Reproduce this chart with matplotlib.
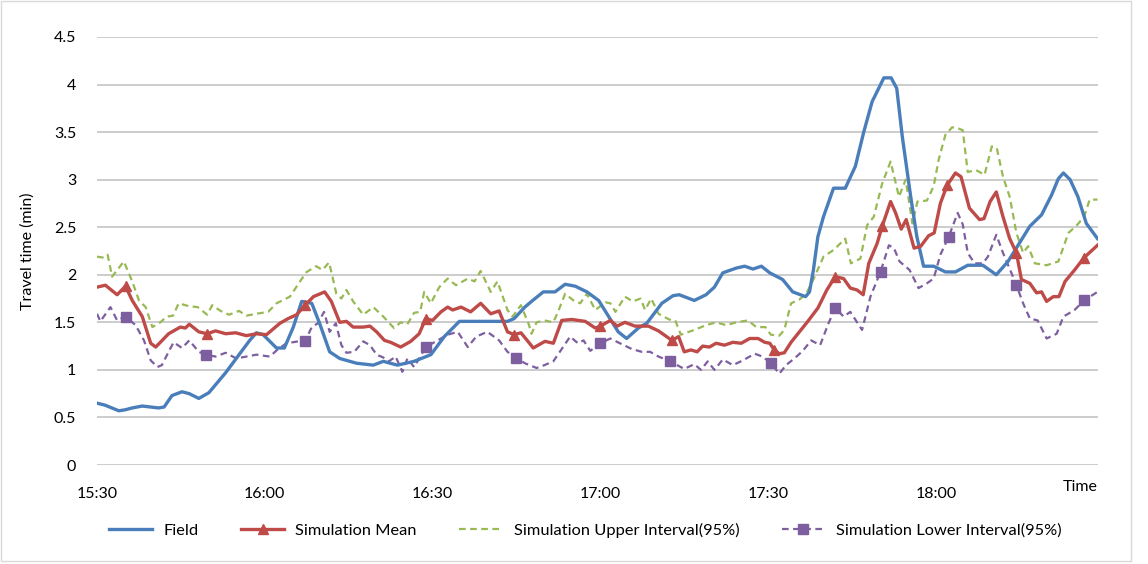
import matplotlib.pyplot as plt
from matplotlib.patches import Rectangle

# ============================
# DATOS (minutos desde las 15:30)
# ============================
t_field = [0, 1.4, 3.9, 5, 6.3, 8.1, 11, 12, 13.4, 15.2, 16.5, 18.2, 20, 23, 25.4, 27.3, 28.5, 29.7,
           32.1, 33.5, 35.1, 36.6, 38.4, 39.8, 41.6, 43.4, 46.4, 49.4, 51.2, 53.7, 56.7, 59.7, 62.1,
           64.8, 68.7, 73.4, 74.6, 76.5, 77.7, 79.8, 81.9, 83.7, 85.5, 87.6, 89.7, 91.5, 93.2, 94.7,
           96.8, 98.3, 101, 103, 104.1, 106.8, 108.9, 110.4, 111.9, 114.3, 115.8, 117.3, 118.8, 120.3,
           122.6, 124.4, 126.7, 127.4, 128.1, 128.9, 129.9, 131.7, 133.8, 135.6, 137.1, 138.6, 140.7,
           142, 143, 144, 145.5, 146.6, 147.8, 149.6, 151.7, 153.5, 155.7, 158.4, 160.8, 162.9, 164.7,
           166.8, 168.9, 170.7, 171.9, 172.8, 174, 175.4, 176.9, 178.9]
field = [0.65, 0.63, 0.57, 0.58, 0.60, 0.62, 0.60, 0.61, 0.73, 0.77, 0.75, 0.70, 0.76, 0.97, 1.16, 1.31, 1.39, 1.37,
         1.23, 1.23, 1.45, 1.72, 1.70, 1.49, 1.19, 1.12, 1.07, 1.05, 1.09, 1.05, 1.09, 1.16, 1.35,
         1.51, 1.51, 1.51, 1.54, 1.66, 1.72, 1.82, 1.82, 1.90, 1.88, 1.82, 1.73, 1.56, 1.40, 1.33,
         1.44, 1.49, 1.70, 1.78, 1.79, 1.73, 1.79, 1.87, 2.02, 2.07, 2.09, 2.06, 2.09, 2.02,
         1.95, 1.82, 1.77, 1.82, 2.05, 2.40, 2.61, 2.91, 2.91, 3.14, 3.50, 3.82, 4.07,
         4.07, 3.96, 3.45, 2.82, 2.40, 2.09, 2.09, 2.03, 2.03, 2.10, 2.10, 2.00, 2.14, 2.31,
         2.51, 2.63, 2.84, 3.01, 3.07, 3.00, 2.82, 2.54, 2.38]

t_mean = [0, 1.5, 3.6, 5.1, 6.3, 8.1, 9.6, 10.5, 12.8, 14.9, 15.8, 16.5, 18.2, 19.7, 21.2, 23, 24.8,
          26.7, 28.5, 30.3, 32.7, 34.2, 35.7, 37.2, 38.7, 40.7, 41.9, 43.4, 44.6, 45.8, 47.6, 48.8,
          50, 51.4, 52.5, 54.3, 56.1, 57.6, 58.8, 60, 61.5, 62.7, 63.6, 65.1, 66.8, 68.6, 70.4, 71.9,
          73.4, 74.6, 75.8, 77.2, 78, 80.1, 81.6, 83.1, 84.9, 87.3, 89.1, 90, 91.8, 93, 94.4, 96.2,
          98.6, 100.4, 102.8, 104, 105, 106.2, 107.3, 108.3, 109.5, 110.7, 112.2, 113.7, 115.2,
          116.7, 118.2, 119.4, 120.3, 121.1, 122, 122.9, 124.1, 125.6, 127.1, 128.9, 130.5, 132,
          133.5, 134.7, 135.9, 137, 138, 139.5, 140.4, 141.9, 142.8, 143.8, 144.7, 146.1, 147.3,
          148.7, 149.7, 150.8, 152, 153.5, 154.5, 156, 157.8, 158.6, 159.7, 160.8, 162, 163.2,
          164.4, 165.3, 166.8, 168, 168.9, 169.8, 171, 172, 173.1, 174.8, 176.5, 178.9]
mean = [1.87, 1.89, 1.79, 1.88, 1.73, 1.56, 1.28, 1.24, 1.38, 1.45, 1.44, 1.48, 1.40, 1.38, 1.41, 1.38, 1.39,
        1.36, 1.38, 1.37, 1.49, 1.54, 1.58, 1.68, 1.77, 1.82, 1.72, 1.50, 1.51, 1.45, 1.45, 1.46,
        1.40, 1.31, 1.29, 1.24, 1.30, 1.38, 1.54, 1.52, 1.61, 1.66, 1.63, 1.66, 1.61, 1.70, 1.59, 1.62,
        1.40, 1.37, 1.39, 1.29, 1.23, 1.30, 1.28, 1.52, 1.53, 1.51, 1.44, 1.46, 1.52, 1.46, 1.50, 1.46,
        1.46, 1.41, 1.31, 1.35, 1.19, 1.21, 1.19, 1.25, 1.24, 1.28, 1.26, 1.29, 1.28,
        1.33, 1.33, 1.29, 1.28, 1.21, 1.17, 1.18, 1.29, 1.40, 1.51, 1.65, 1.84, 1.98,
        1.96, 1.86, 1.84, 1.79, 2.12, 2.33, 2.51, 2.77, 2.65, 2.48, 2.58, 2.28, 2.30,
        2.41, 2.44, 2.75, 2.94, 3.07, 3.03, 2.70, 2.58, 2.59, 2.77, 2.87, 2.61, 2.38,
        2.23, 1.95, 1.91, 1.81, 1.82, 1.72, 1.77, 1.77, 1.93, 2.05, 2.18, 2.31]

t_upper = [0, 1.2, 1.9, 2.7, 4.8, 6.3, 7.5, 8.7, 9.9, 11.1, 12.5, 13.6, 14.6, 16.4, 18, 19.7, 20.6, 22.1,
           23.6, 25.4, 26.7, 28.5, 30.6, 32.1, 34.5, 36.3, 37.5, 39.2, 40.3, 41.5, 42.8, 43.7, 44.6,
           45.8, 47.6, 49.4, 51.2, 53.1, 54.3, 55.5, 56.7, 57.8, 58.5, 59.7, 61.2, 62.7, 64.2, 66.3,
           67.5, 68.6, 70.4, 71.6, 73.4, 74.3, 75.8, 77.2, 77.7, 78.6, 80, 81.6, 82.5, 83.7, 85.2, 86.4,
           87.6, 89.1, 90.9, 91.8, 92.7, 94.4, 95.8, 97.2, 98, 99.1, 100.4, 102.3, 103.4, 104.4,
           106.8, 108.9, 110.7, 112.5, 114.3, 116.4, 117.9, 119.5, 120.5, 122, 122.9, 124.1, 125.6,
           126.8, 128.1, 129.9, 131.7, 133.8, 134.8, 136.5, 137.7, 138.9, 140.4, 141.9, 143.4, 144.6,
           145.8, 146.7, 148.4, 149.6, 150.5, 151.7, 152.9, 153.9, 154.8, 155.7, 157.2, 158.7, 160,
           160.9, 162, 163.2, 164.4, 165.6, 166.5, 167.7, 169.8, 171.9, 173.7, 175.2, 176.5, 177.5,
           178.9]
upper = [2.19, 2.18, 2.21, 1.98, 2.14, 1.93, 1.73, 1.66, 1.45, 1.49, 1.56, 1.57, 1.70, 1.67, 1.66, 1.58, 1.68, 1.62,
         1.58, 1.62, 1.57, 1.59, 1.61, 1.70, 1.77, 1.93, 2.03, 2.09, 2.05, 2.13, 1.80, 1.75, 1.84,
         1.72, 1.58, 1.66, 1.56, 1.44, 1.50, 1.48, 1.60, 1.61, 1.82, 1.70, 1.87, 1.96, 1.89, 1.96,
         1.93, 2.04, 1.82, 1.93, 1.63, 1.56, 1.68, 1.48, 1.38, 1.50, 1.52, 1.50, 1.62, 1.80, 1.73, 1.70,
         1.80, 1.63, 1.71, 1.70, 1.61, 1.77, 1.72, 1.75, 1.63, 1.75, 1.59, 1.53, 1.52, 1.37,
         1.42, 1.47, 1.50, 1.47, 1.50, 1.52, 1.45, 1.45, 1.37, 1.36, 1.42, 1.70, 1.74,
         1.80, 1.95, 2.19, 2.26, 2.38, 2.12, 2.17, 2.52, 2.61, 2.96, 3.19, 2.82, 3.00,
         2.54, 2.77, 2.78, 2.93, 3.21, 3.47, 3.55, 3.54, 3.52, 3.08, 3.10, 3.05, 3.35,
         3.33, 3.03, 2.82, 2.44, 2.23, 2.30, 2.12, 2.10, 2.14, 2.44, 2.52, 2.61, 2.79,
         2.79]

t_lower = [0, 0.6, 2.4, 3.6, 5.1, 6.9, 8.4, 9.6, 10.8, 11.6, 12.8, 13.7, 15.2, 16.5, 18.2, 19.4, 21.2, 23,
           24.9, 26.7, 28.5, 30.9, 32.4, 33.9, 36, 37.2, 38.4, 39.5, 40.6, 41.6, 42.7, 43.7, 44.6, 46,
           47.6, 48.8, 50, 51.2, 52.2, 53.4, 54.6, 55.5, 56.7, 58.8, 60.3, 62.7, 64.5, 66.3, 67.8,
           69.8, 71.9, 73.4, 74.9, 76.5, 78.6, 80, 81.6, 83.1, 84.6, 86, 87, 88.2, 90, 91.8, 93.5,
           95.6, 97.4, 98.9, 100.4, 102.5, 105, 106.8, 108, 109.2, 110.4, 111.9, 113.7, 115.5, 117.6,
           119, 120.5, 122, 123.2, 124.7, 126.2, 127.7, 129.3, 130.8, 132, 133.5, 134.7, 136.8,
           138.3, 140.1, 141.6, 142.5, 143.5, 145.3, 146.9, 148.4, 149.6, 150.8, 152.3, 153.9, 154.8,
           155.7, 156.9, 158.4, 159.3, 160.8, 162, 163.5, 164.4, 165.6, 166.8, 168.2, 169.8, 171.6,
           172.8, 174.8, 176.5, 178.9]
lower = [1.59, 1.51, 1.66, 1.52, 1.56, 1.47, 1.31, 1.10, 1.03, 1.05, 1.19, 1.29, 1.23, 1.31, 1.19, 1.16, 1.14, 1.18,
         1.12, 1.14, 1.16, 1.14, 1.22, 1.28, 1.30, 1.30, 1.45, 1.49, 1.61, 1.40, 1.49, 1.26, 1.18, 1.19,
         1.30, 1.26, 1.16, 1.13, 1.09, 1.14, 0.98, 1.12, 1.03, 1.24, 1.29, 1.37, 1.40, 1.24, 1.35,
         1.40, 1.31, 1.19, 1.13, 1.07, 1.02, 1.05, 1.09, 1.22, 1.35, 1.28, 1.31, 1.20, 1.28, 1.33, 1.28,
         1.22, 1.19, 1.19, 1.14, 1.09, 1.01, 1.06, 1.00, 1.09, 1.00, 1.11, 1.05, 1.10, 1.17,
         1.14, 1.07, 0.96, 1.05, 1.12, 1.20, 1.31, 1.26, 1.49, 1.65, 1.56, 1.61, 1.42,
         1.77, 2.03, 2.31, 2.28, 2.14, 2.05, 1.86, 1.91, 1.96, 2.21, 2.40, 2.65, 2.53,
         2.23, 2.12, 2.12, 2.19, 2.42, 2.23, 2.02, 1.89, 1.70, 1.54, 1.52, 1.33, 1.38,
         1.56, 1.63, 1.73, 1.82]

# instantes con marcador (triángulos / cuadrados)
t_marks_mean = [5.1, 19.7, 37.2, 58.8, 74.6, 90, 102.8, 121.1, 132, 140.4, 152, 164.4, 176.5]
t_marks_lower = [5.1, 19.4, 37.2, 58.8, 74.9, 90, 102.5, 120.5, 132, 140.1, 152.3, 164.4, 176.5]

x_ticks = [0, 30, 60, 90, 120, 150]
x_labels = ["15:30", "16:00", "16:30", "17:00", "17:30", "18:00"]
y_ticks = [0, 0.5, 1, 1.5, 2, 2.5, 3, 3.5, 4, 4.5]
y_labels = ["0", "0.5", "1", "1.5", "2", "2.5", "3", "3.5", "4", "4.5"]

# ============================
# GRAFICADO
# ============================
plt.rcParams["font.family"] = ["Lato", "DejaVu Sans"]

fig = plt.figure(figsize=(11.48, 5.64), dpi=100)
ax = fig.add_axes([0.0845, 0.1755, 0.872, 0.759])

ax.plot(t_field, field, color="#4A7EBB", linewidth=2.4, label="Field", zorder=3)
ax.plot(t_mean, mean, color="#BE4B48", linewidth=2.4, marker="^", markersize=7,
        markevery=[t_mean.index(t) for t in t_marks_mean], label="Simulation Mean", zorder=4)
ax.plot(t_upper, upper, color="#98B954", linewidth=1.6, linestyle=(0, (3, 2)),
        label="Simulation Upper Interval(95%)", zorder=2)
ax.plot(t_lower, lower, color="#7D5FA0", linewidth=1.6, linestyle=(0, (3, 2)), marker="s",
        markersize=7, markevery=[t_lower.index(t) for t in t_marks_lower],
        label="Simulation Lower Interval(95%)", zorder=2)

ax.set_xlim(0, 179)
ax.set_ylim(0, 4.5)
ax.set_xticks(x_ticks)
ax.set_xticklabels(x_labels, fontsize=11.5)
ax.set_yticks(y_ticks)
ax.set_yticklabels(y_labels, fontsize=11.5)
ax.tick_params(length=0)
ax.tick_params(axis="y", pad=15)
ax.tick_params(axis="x", pad=16)
ax.grid(axis="y", color="#BFBFBF", linewidth=1.1)
ax.set_axisbelow(True)
for s in ax.spines.values():
    s.set_visible(False)

ax.set_ylabel("Travel time (min)", fontsize=11.5, labelpad=14)
ax.text(1.0, -0.035, "Time", transform=ax.transAxes, ha="right", va="top", fontsize=11.5)

fig.legend(loc="center", bbox_to_anchor=(0.51, 0.06), ncol=4, frameon=False, fontsize=11.8,
           handlelength=2.6, handletextpad=0.7, columnspacing=2.6)

# marco del área del gráfico
fig.patches.append(Rectangle((0.001, 0.006), 0.984, 0.992, transform=fig.transFigure,
                             fill=False, edgecolor="#D9D9D9", linewidth=1.0))

fig.savefig("out.png", dpi=100)
